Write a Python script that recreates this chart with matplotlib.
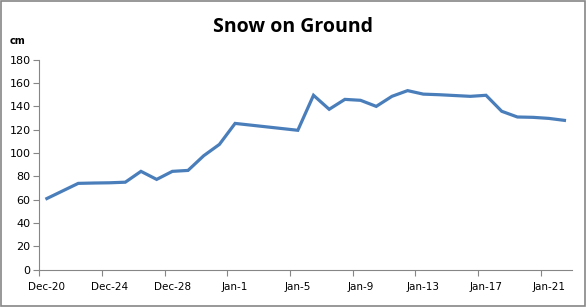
import matplotlib

matplotlib.use("Agg")

import matplotlib.pyplot as plt  # noqa: E402
import pandas as pd  # noqa: E402
from matplotlib.patches import Rectangle  # noqa: E402

dates = [
    "2011-12-20", "2011-12-22", "2011-12-23", "2011-12-24", "2011-12-25",
    "2011-12-26", "2011-12-27", "2011-12-28", "2011-12-29", "2011-12-30",
    "2011-12-31", "2012-01-01", "2012-01-05", "2012-01-06", "2012-01-07",
    "2012-01-08", "2012-01-09", "2012-01-10", "2012-01-11", "2012-01-12",
    "2012-01-13", "2012-01-14", "2012-01-15", "2012-01-16", "2012-01-17",
    "2012-01-18", "2012-01-19", "2012-01-20", "2012-01-21", "2012-01-22",
]
snow_cm = [
    61, 74, 74.3, 74.5, 75,
    84.3, 77.4, 84.3, 85.1, 97.7,
    107.4, 125.4, 119.5, 149.5, 137.5,
    146, 145.2, 140, 148.6, 153.5,
    150.5, 150, 149.3, 148.6, 149.5,
    135.8, 130.9, 130.6, 129.7, 128,
]
start_date = "2011-12-20"
n_days = 34
y_ticks = [0, 20, 40, 60, 80, 100, 120, 140, 160, 180]

days = (pd.to_datetime(dates) - pd.Timestamp(start_date)).days
label_days = list(range(0, n_days, 4))
label_text = [(pd.Timestamp(start_date) + pd.Timedelta(days=d)).strftime("%b-%-d") for d in label_days]

plt.rcParams["font.family"] = ["DejaVu Sans"]
fig = plt.figure(figsize=(5.86, 3.07), dpi=100)
ax = fig.add_axes([0.0666, 0.1215, 0.91, 0.684])

ax.plot(days, snow_cm, color="#4a7ebb", linewidth=2.3, solid_joinstyle="miter")

ax.set_xlim(-0.5, n_days - 0.5)
ax.set_ylim(0, 180)
ax.set_yticks(y_ticks)
ax.set_xticks([d - 0.5 for d in label_days])
ax.set_xticklabels([])
ax.set_xticks(label_days, minor=True)
ax.set_xticklabels(label_text, minor=True)
ax.tick_params(axis="x", which="minor", length=0, pad=9, labelsize=7.5)
ax.tick_params(axis="x", which="major", length=4, color="#868686")
ax.tick_params(axis="y", length=4, color="#868686", labelsize=8, pad=2)

for side in ["top", "right"]:
    ax.spines[side].set_visible(False)
for side in ["left", "bottom"]:
    ax.spines[side].set_color("#868686")

fig.text(0.5, 0.912, "Snow on Ground", ha="center", va="center", fontsize=14,
         fontweight="bold", family="Open Sans")
fig.text(0.03, 0.865, "cm", ha="center", va="center", fontsize=7, fontweight="bold")

fig.patches.append(Rectangle((0.001, 0.002), 0.997, 0.995, transform=fig.transFigure,
                             fill=False, edgecolor="#868686", linewidth=1.2))

fig.savefig("out.png", dpi=100)
plt.close(fig)
